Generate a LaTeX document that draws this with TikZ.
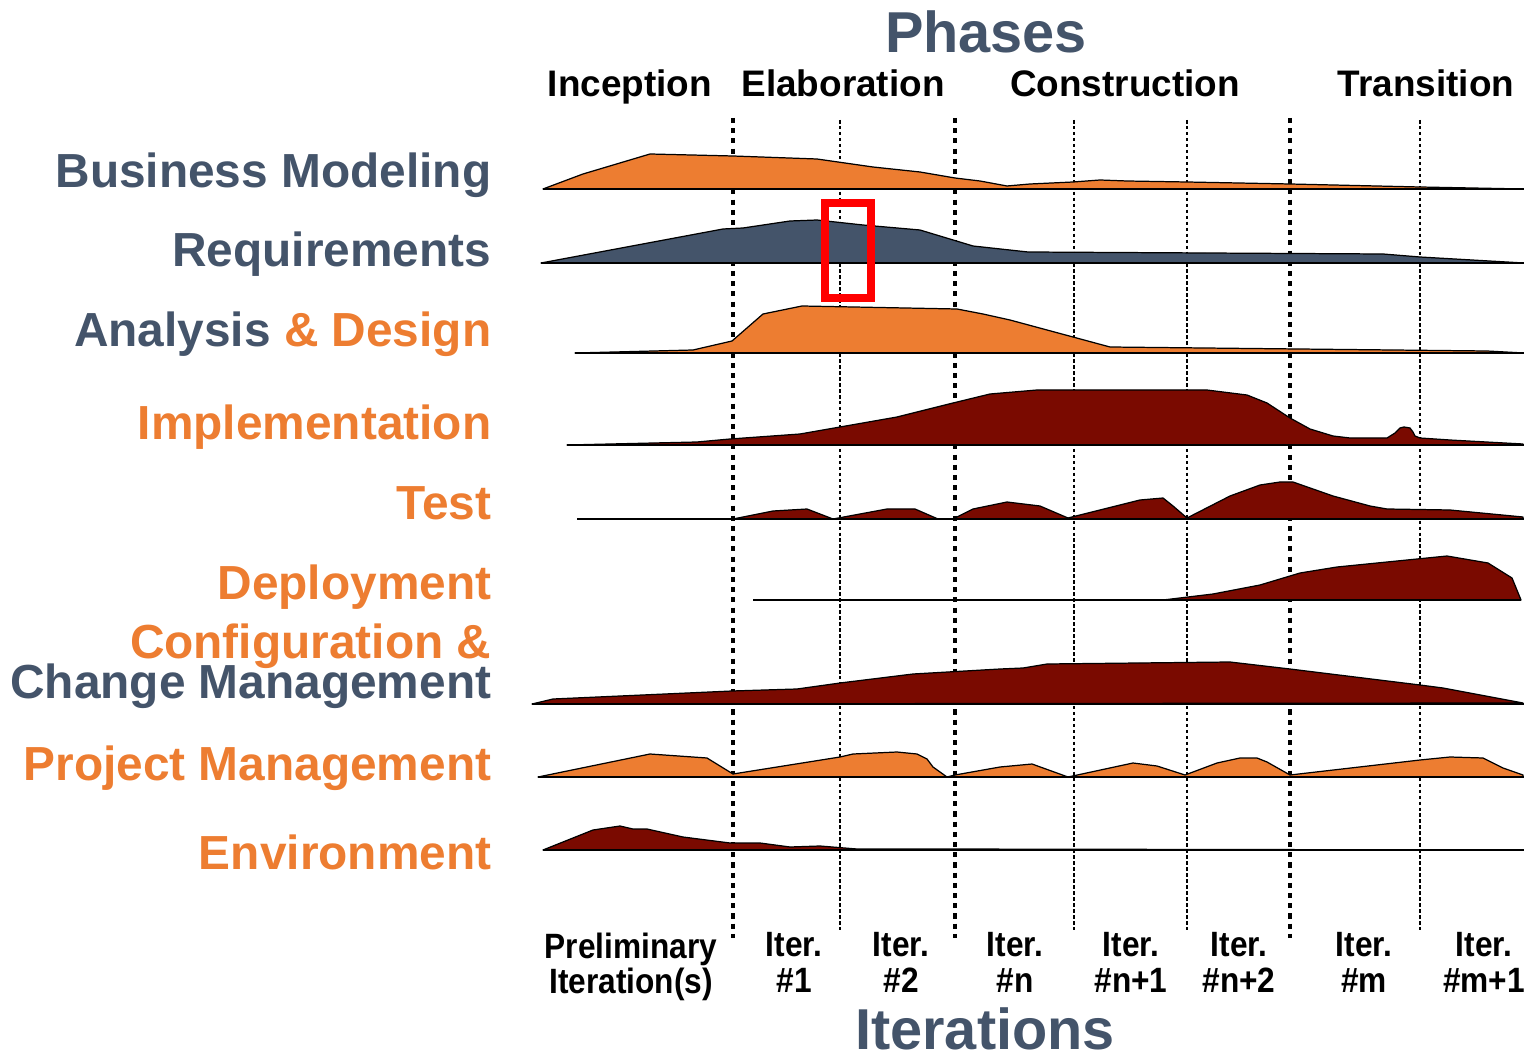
\documentclass[tikz,border=0pt]{standalone}
\usepackage{fontspec}
\setmainfont{Liberation Sans}
\newfontfamily\narrowfont{Liberation Sans}[FakeStretch=0.9]
\definecolor{slate}{HTML}{44546A}
\definecolor{rorange}{HTML}{ED7D31}
\definecolor{dred}{HTML}{7A0A00}
\begin{document}
\begin{tikzpicture}[x=0.01cm,y=-0.01cm,
  hump/.style={draw=black, line width=0.35pt, line join=round},
  baseln/.style={draw=black, line width=0.7pt},
  phasesep/.style={line width=1.3pt, dash pattern=on 1.45pt off 1.45pt},
  itersep/.style={line width=0.3pt, dash pattern=on 1pt off 0.7pt},
  lbl/.style={font=\fontsize{13.6}{16}\selectfont\bfseries, anchor=base east, inner sep=0},
  phaselbl/.style={font=\fontsize{10.5}{12}\selectfont\bfseries, anchor=base, inner sep=0},
  bigttl/.style={font=\fontsize{16.4}{18}\selectfont\bfseries, text=slate, anchor=base, inner sep=0},
  iterlbl/.style={font=\narrowfont\fontsize{10}{10}\selectfont\bfseries, align=center, anchor=north, inner sep=0}]
\useasboundingbox (0,0) rectangle (1524,1058);

% separators
\foreach \xx in {840,1074,1187,1420} \draw[itersep] (\xx,120) -- (\xx,930);
\foreach \xx in {733,955,1290} \draw[phasesep] (\xx,118) -- (\xx,938);

% Business Modeling
\draw[hump, fill=rorange] (543,189) -- (583,174) -- (650,154) -- (733,156) -- (817,159) -- (873,167) -- (920,172) -- (955,178) -- (980,181) -- (1007,186) -- (1030,184) -- (1073,182) -- (1100,180) -- (1127,181) -- (1187,182) -- (1290,184) -- (1420,187) -- (1524,189) -- cycle;
\draw[baseln] (543,189) -- (1524,189);
% Requirements
\draw[hump, fill=slate] (541,263) -- (723,229) -- (743,228) -- (790,221) -- (817,220) -- (863,225) -- (920,230) -- (973,246) -- (1028,252) -- (1383,254) -- (1420,257) -- (1524,263) -- cycle;
\draw[baseln] (541,263) -- (1524,263);
% Analysis & Design
\draw[hump, fill=rorange] (575,353) -- (693,350) -- (732,341) -- (763,314) -- (802,306) -- (957,309) -- (983,314) -- (1010,320) -- (1110,347) -- (1487,351) -- (1524,353) -- cycle;
\draw[baseln] (575,353) -- (1524,353);
% Implementation
\draw[hump, fill=dred] (567,445) -- (697,442) -- (730,439) -- (800,434) -- (840,427) -- (897,417) -- (953,403) -- (990,394) -- (1037,390) -- (1207,390) -- (1247,395) -- (1267,403) -- (1290,418) -- (1310,429) -- (1333,436) -- (1350,438) -- (1387,438) -- (1395,433) -- (1400,428) -- (1404,427) -- (1410,428) -- (1413,432) -- (1415,436) -- (1420,438) -- (1450,440) -- (1523,444) -- (1523,445) -- cycle;
\draw[baseln] (567,445) -- (1524,445);
% Test
\draw[hump, fill=dred] (733,519) -- (773,511) -- (807,509) -- (833,519) -- (887,509) -- (915,509) -- (938,519) -- (953,519) -- (973,509) -- (1007,502) -- (1040,506) -- (1068,518) -- (1140,500) -- (1163,498) -- (1173,506) -- (1187,518) -- (1230,496) -- (1260,485) -- (1280,482) -- (1293,482) -- (1333,496) -- (1370,506) -- (1387,509) -- (1450,510) -- (1523,517) -- (1523,519) -- cycle;
\draw[baseln] (577,519) -- (1524,519);
% Deployment
\draw[hump, fill=dred] (1163,600) -- (1213,594) -- (1260,585) -- (1300,573) -- (1337,567) -- (1447,556) -- (1488,563) -- (1512,578) -- (1521,600) -- cycle;
\draw[baseln] (753,600) -- (1521,600);
% Configuration & Change Management
\draw[hump, fill=dred] (532,704) -- (553,699) -- (732,691) -- (797,689) -- (840,683) -- (913,674) -- (1000,669) -- (1023,668) -- (1047,664) -- (1230,662) -- (1290,669) -- (1420,685) -- (1443,688) -- (1523,703) -- cycle;
\draw[baseln] (532,704) -- (1524,704);
% Project Management
\draw[hump, fill=rorange] (538,777) -- (650,754) -- (707,758) -- (733,774) -- (840,757) -- (853,754) -- (897,752) -- (917,754) -- (927,759) -- (933,767) -- (947,777) -- (955,775) -- (1000,767) -- (1032,764) -- (1068,777) -- (1133,763) -- (1157,766) -- (1185,775) -- (1217,763) -- (1240,758) -- (1257,758) -- (1267,762) -- (1290,775) -- (1420,760) -- (1450,757) -- (1483,758) -- (1503,768) -- (1523,775) -- (1523,777) -- cycle;
\draw[baseln] (538,777) -- (1524,777);
% Environment
\draw[hump, fill=dred] (543,850) -- (593,830) -- (620,826) -- (633,829) -- (647,829) -- (683,837) -- (730,843) -- (760,843) -- (790,847) -- (820,846) -- (857,849) -- (933,849) -- (1524,850) -- cycle;
\draw[baseln] (543,850) -- (1524,850);

% highlight box
\draw[red, line width=2pt] (825,203) rectangle (871,298);

% titles
\node[bigttl] (phases) at (986,53) {Phases};
\node[bigttl] (iters) at (985,1049) {Iterations};
\node[phaselbl] (inc) at (630,97) {Inception};
\node[phaselbl] (ela) at (843,97) {Elaboration};
\node[phaselbl] (con) at (1125,97) {Construction};
\node[phaselbl] (tra) at (1426,97) {Transition};

% discipline labels
\node[lbl, text=slate] (bm) at (492,188) {Business Modeling};
\node[lbl, text=slate] (rq) at (492,267) {Requirements};
\node[lbl] (ad) at (492,347) {\textcolor{slate}{Analysis} \textcolor{rorange}{\& Design}};
\node[lbl, text=rorange] (im) at (492,440) {Implementation};
\node[lbl, text=rorange] (ts) at (492,520) {Test};
\node[lbl, text=rorange] (dp) at (492,600) {Deployment};
\node[lbl, text=rorange] (cf) at (492,659) {Configuration \&};
\node[lbl, text=slate] (cm) at (492,698) {Change Management};
\node[lbl, text=rorange] (pm) at (492,780) {Project Management};
\node[lbl, text=rorange] (en) at (492,869) {Environment};

% iteration labels
\node[iterlbl] (it0) at (631,932) {Preliminary\\Iteration(s)};
\node[iterlbl] (it1) at (794,932) {Iter.\\\#1};
\node[iterlbl] (it2) at (901,932) {Iter.\\\#2};
\node[iterlbl] (itn) at (1015,932) {Iter.\\\#n};
\node[iterlbl] (itn1) at (1131,932) {Iter.\\\#n+1};
\node[iterlbl] (itn2) at (1239,932) {Iter.\\\#n+2};
\node[iterlbl] (itm) at (1364,932) {Iter.\\\#m};
\node[iterlbl] (itm1) at (1484,932) {Iter.\\\#m+1};
\end{tikzpicture}
\end{document}
